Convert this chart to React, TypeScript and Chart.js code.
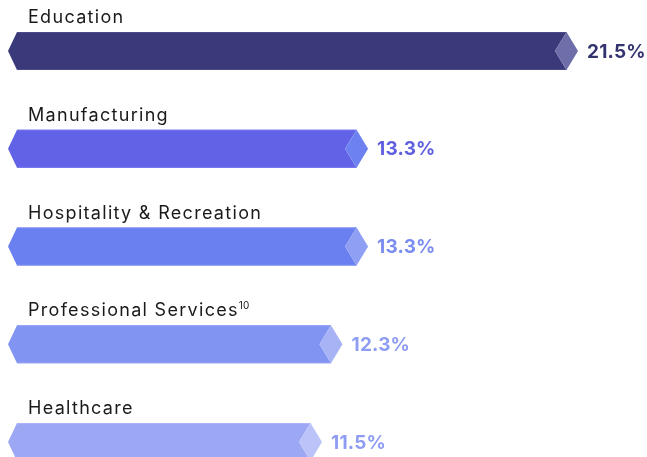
import React, { useEffect, useRef } from 'react';
import { Chart, registerables } from 'chart.js';

Chart.register(...registerables);

const categories = ['Education', 'Manufacturing', 'Hospitality & Recreation', 'Professional Services', 'Healthcare'];
const footnotes = ['', '', '', '10', ''];
const values = [21.5, 13.3, 13.3, 12.3, 11.5];
const bodyColors = ['#3a3a7a', '#6262e6', '#6b80f0', '#8194f1', '#9da8f5'];
const facetColors = ['#6e6eaa', '#6d82f0', '#8e9ff4', '#a8b3f6', '#bcc3f9'];
const edgeColors = ['#4a4a8a', '#7474ee', '#7d90f4', '#92a2f4', '#acb5f7'];
const textColors = ['#33336f', '#5f5fe0', '#7b8cf0', '#8e9cf2', '#8f9cf3'];

const LABEL_FONT = '18px Inter, "Noto Sans", sans-serif';
const SUP_FONT = '10px Inter, "Noto Sans", sans-serif';
const VALUE_FONT = 'bold 19px Inter, "Noto Sans", sans-serif';

const hexBars = {
  id: 'hexBars',
  afterDatasetsDraw(chart: any) {
    const ctx = chart.ctx;
    const meta = chart.getDatasetMeta(0);
    const left = chart.chartArea.left;
    meta.data.forEach((bar: any, i: number) => {
      const p = bar.getProps(['x', 'y', 'height'], true);
      const tip = p.x;
      const cy = p.y;
      const h = p.height;
      const top = cy - h / 2;
      const bot = cy + h / 2;
      const ln = 9;
      const rn = 11.5;
      ctx.save();
      // body
      ctx.beginPath();
      ctx.moveTo(left, cy);
      ctx.lineTo(left + ln, top);
      ctx.lineTo(tip - rn, top);
      ctx.lineTo(tip - 2 * rn, cy);
      ctx.lineTo(tip - rn, bot);
      ctx.lineTo(left + ln, bot);
      ctx.closePath();
      ctx.fillStyle = bodyColors[i];
      ctx.fill();
      // edges
      ctx.strokeStyle = edgeColors[i];
      ctx.lineWidth = 1;
      ctx.beginPath();
      ctx.moveTo(left + ln, top + 0.5);
      ctx.lineTo(tip - rn, top + 0.5);
      ctx.moveTo(left + ln, bot - 0.5);
      ctx.lineTo(tip - rn, bot - 0.5);
      ctx.stroke();
      // facet
      ctx.beginPath();
      ctx.moveTo(tip - rn, top);
      ctx.lineTo(tip, cy);
      ctx.lineTo(tip - rn, bot);
      ctx.lineTo(tip - 2 * rn, cy);
      ctx.closePath();
      ctx.fillStyle = facetColors[i];
      ctx.fill();
      // category label
      ctx.fillStyle = '#1a1a1a';
      ctx.font = LABEL_FONT;
      (ctx as any).letterSpacing = '1.3px';
      ctx.textBaseline = 'alphabetic';
      ctx.textAlign = 'left';
      const lx = left + 20;
      const ly = top - 9;
      ctx.fillText(categories[i], lx, ly);
      if (footnotes[i]) {
        const w = ctx.measureText(categories[i]).width;
        ctx.font = SUP_FONT;
        (ctx as any).letterSpacing = '0px';
        ctx.fillText(footnotes[i], lx + w, ly - 7);
      }
      // value label
      (ctx as any).letterSpacing = '0.2px';
      ctx.fillStyle = textColors[i];
      ctx.font = VALUE_FONT;
      ctx.textBaseline = 'middle';
      ctx.fillText(values[i].toFixed(1) + '%', tip + 9, cy + 1);
      ctx.restore();
    });
  },
};

export default function App() {
  const ref = useRef<HTMLCanvasElement>(null);
  useEffect(() => {
    if (!ref.current) return;
    document.body.style.margin = '0';
    document.body.style.overflow = 'hidden';
    const chart = new Chart(ref.current, {
      type: 'bar',
      data: {
        labels: categories,
        datasets: [
          {
            data: values,
            backgroundColor: 'transparent',
            borderWidth: 0,
            barThickness: 38,
            clip: false as any,
          },
        ],
      },
      options: {
        indexAxis: 'y',
        animation: false,
        responsive: true,
        maintainAspectRatio: false,
        layout: { padding: { top: 43, bottom: 15, left: 0, right: 0 } },
        plugins: { legend: { display: false }, tooltip: { enabled: false } },
        scales: {
          x: { display: false, min: -0.766, max: 24.195 },
          y: { display: false, offset: false },
        },
      },
      plugins: [hexBars],
    });
    return () => chart.destroy();
  }, []);
  return (
    <div style={{ width: 647, height: 457, paddingLeft: 8, paddingTop: 8, boxSizing: 'border-box' }}>
      <div style={{ position: 'relative', width: 639, height: 449 }}>
        <canvas ref={ref} />
      </div>
    </div>
  );
}
